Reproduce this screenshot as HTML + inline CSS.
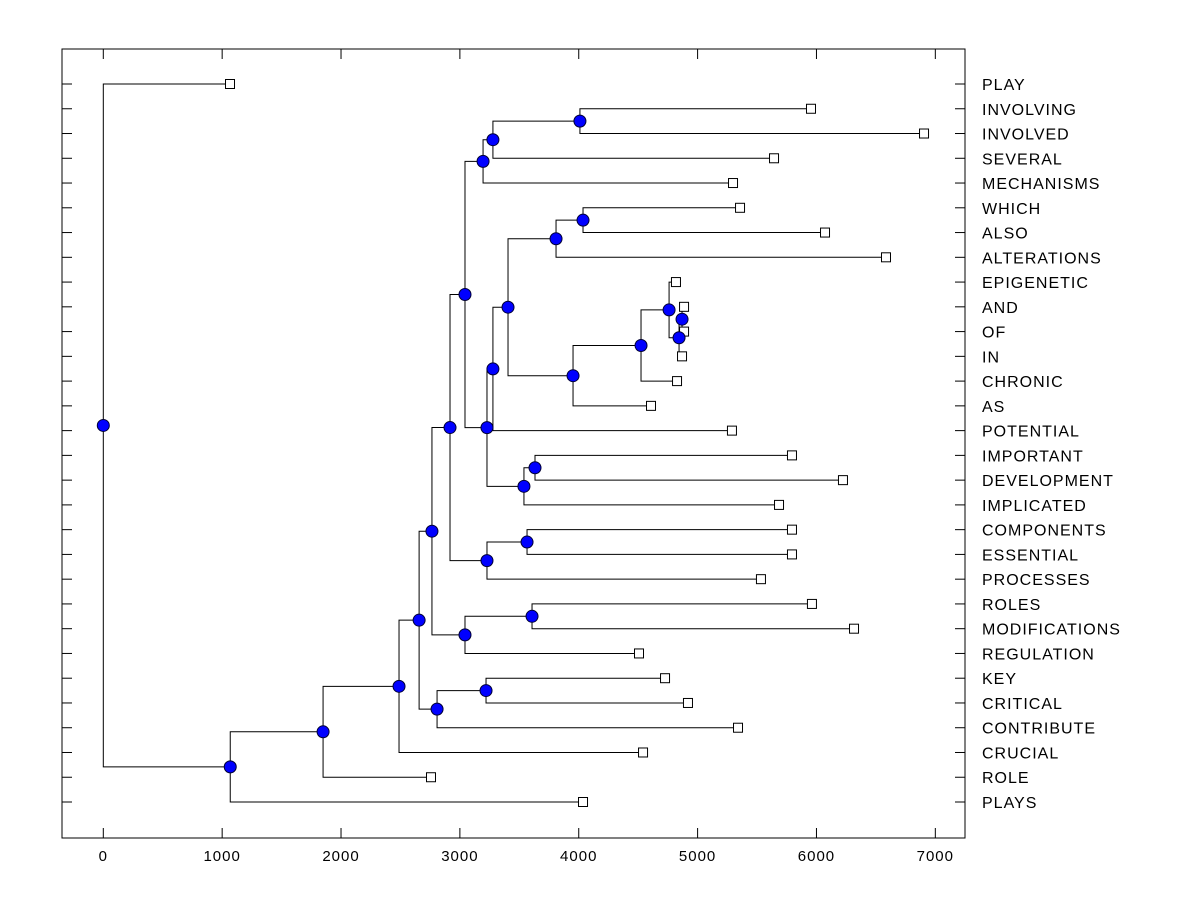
<!DOCTYPE html>
<html><head><meta charset="utf-8"><style>
html,body{margin:0;padding:0;background:#fff;}
svg{display:block;font-family:"Liberation Sans",Arial,sans-serif;}
</style></head><body>
<svg id="chart" width="1200" height="900" viewBox="0 0 1200 900" xmlns="http://www.w3.org/2000/svg">
<rect x="0" y="0" width="1200" height="900" fill="#fff"/>
<g id="lines"></g>
<g id="leaves"></g>
<g id="nodes"></g>
<g id="axes"></g>
</svg>
<script>
const labels = ["PLAY","INVOLVING","INVOLVED","SEVERAL","MECHANISMS","WHICH","ALSO","ALTERATIONS","EPIGENETIC","AND","OF","IN","CHRONIC","AS","POTENTIAL","IMPORTANT","DEVELOPMENT","IMPLICATED","COMPONENTS","ESSENTIAL","PROCESSES","ROLES","MODIFICATIONS","REGULATION","KEY","CRITICAL","CONTRIBUTE","CRUCIAL","ROLE","PLAYS"];
const leafValues = [1066,5954,6905,5643,5298,5357,6072,6585,4818,4886,4886,4869,4827,4608,5289,5794,6223,5685,5794,5794,5533,5962,6316,4507,4726,4919,5340,4541,2757,4036];
const mergeLeft  = [9,30,8,32,33,5,35,36,37,15,39,38,1,42,43,44,18,46,45,21,49,48,24,52,51,54,55,56,0];
const mergeRight = [10,11,31,12,13,6,7,34,14,16,17,40,2,3,4,41,19,20,47,22,23,50,25,26,53,27,28,29,57];
const mergeHeight = [4869,4844,4760,4524,3952,4036,3809,3405,3278,3632,3539,3228,4010,3278,3195,3043,3565,3228,2917,3607,3043,2765,3220,2808,2657,2488,1849,1068,0];
const xTicks = [0,1000,2000,3000,4000,5000,6000,7000];

const NS = "http://www.w3.org/2000/svg";
const L=62, R=965, T=49, B=838;
const xScale = v => 103.3 + v*0.11886;
const yRow = i => 84 + i*(802-84)/29;

function mk(tag, attrs, parent){
  const e = document.createElementNS(NS, tag);
  for (const k in attrs) e.setAttribute(k, attrs[k]);
  parent.appendChild(e);
  return e;
}
const gL = document.getElementById('lines'), gLeaf = document.getElementById('leaves'),
      gN = document.getElementById('nodes'), gA = document.getElementById('axes');

const px = [], py = [];
const n = labels.length;
for (let i=0;i<n;i++){ px.push(xScale(leafValues[i])); py.push(yRow(i)); }
for (let k=0;k<mergeLeft.length;k++){
  const a=mergeLeft[k], b=mergeRight[k];
  px.push(xScale(mergeHeight[k]));
  py.push((py[a]+py[b])/2);
}
for (let k=0;k<mergeLeft.length;k++){
  const id=n+k, a=mergeLeft[k], b=mergeRight[k], x=px[id];
  const p = mk('path',{d:`M${px[a]},${py[a]}H${x}V${py[b]}H${px[b]}`,fill:'none',stroke:'#000','stroke-width':1}, gL);
  
  
}
for (let i=0;i<n;i++){
  const r = mk('rect',{x:px[i]-4.5,y:py[i]-4.5,width:9,height:9,fill:'#fff',stroke:'#000','stroke-width':1}, gLeaf);
  
  
  const t = mk('text',{x:982,y:py[i]+6,'font-size':16,'letter-spacing':1,fill:'#000'}, gA);
  t.textContent = labels[i];
  
  
}
for (let k=0;k<mergeLeft.length;k++){
  const id=n+k;
  const c = mk('circle',{cx:px[id],cy:py[id],r:6,fill:'#0000ff',stroke:'#000033','stroke-width':1}, gN);
  
  
}
const f = mk('rect',{x:L,y:T,width:R-L,height:B-T,fill:'none',stroke:'#000','stroke-width':1}, gA);


for (let i=0;i<n;i++){
  const y=yRow(i);
  const t1 = mk('line',{x1:L,x2:L+10,y1:y,y2:y,stroke:'#000'}, gA);
  
  
  const t2 = mk('line',{x1:R-10,x2:R,y1:y,y2:y,stroke:'#000'}, gA);
  
  
}
for (const v of xTicks){
  const x=xScale(v);
  const a = mk('line',{x1:x,x2:x,y1:B-10,y2:B,stroke:'#000'}, gA);
  
  
  const b = mk('line',{x1:x,x2:x,y1:T,y2:T+10,stroke:'#000'}, gA);
  
  
  const t = mk('text',{x:x,y:861,'font-size':15,'letter-spacing':1,'text-anchor':'middle',fill:'#000'}, gA);
  t.textContent = String(v);
  
  
}
</script>
</body></html>
